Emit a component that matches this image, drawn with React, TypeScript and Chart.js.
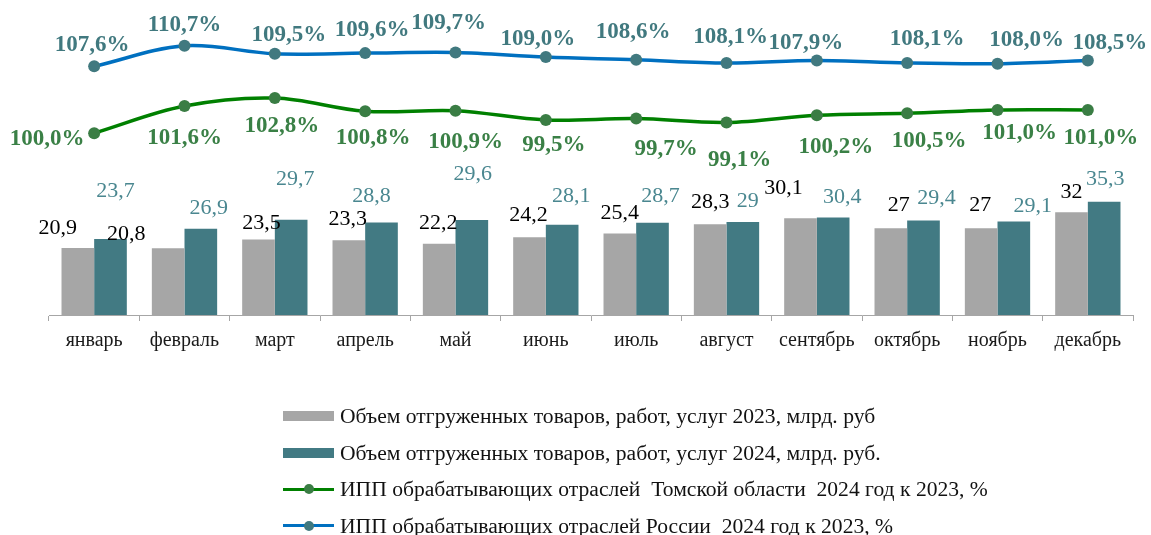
import React, { useEffect, useRef } from "react";
import { Chart, registerables } from "chart.js";

Chart.register(...registerables);

// ---------- data ----------
const months = ["январь", "февраль", "март", "апрель", "май", "июнь", "июль", "август", "сентябрь", "октябрь", "ноябрь", "декабрь"];
const shipped2023 = [20.9, 20.8, 23.5, 23.3, 22.2, 24.2, 25.4, 28.3, 30.1, 27, 27, 32];
const shipped2024 = [23.7, 26.9, 29.7, 28.8, 29.6, 28.1, 28.7, 29, 30.4, 29.4, 29.1, 35.3];
// plotted marker values
const tomskIndex = [97.5, 101.6, 102.8, 100.8, 100.9, 99.5, 99.7, 99.1, 100.2, 100.5, 101.0, 101.0];
const russiaIndex = [107.6, 110.7, 109.5, 109.6, 109.7, 109.0, 108.6, 108.1, 108.5, 108.1, 108.0, 108.5];
// printed label values
const tomskLabels = [100.0, 101.6, 102.8, 100.8, 100.9, 99.5, 99.7, 99.1, 100.2, 100.5, 101.0, 101.0];
const russiaLabels = [107.6, 110.7, 109.5, 109.6, 109.7, 109.0, 108.6, 108.1, 107.9, 108.1, 108.0, 108.5];

const legendNames = [
  "Объем отгруженных товаров, работ, услуг 2023, млрд. руб",
  "Объем отгруженных товаров, работ, услуг 2024, млрд. руб.",
  "ИПП обрабатывающих отраслей  Томской области  2024 год к 2023, %",
  "ИПП обрабатывающих отраслей России  2024 год к 2023, %",
];

// ---------- label placement (layout only) ----------
const nudge2023: [number, number][] = [[-20, -21], [-42, -16], [3, -18], [-1, -23], [-1, -22], [-1, -24], [0, -22], [0, -24], [-17, -32], [8, -25], [-1, -25], [0, -22]];
const nudge2024: [number, number][] = [[5, -49], [8, -22], [4, -42], [-10, -28], [1, -47], [9, -30], [8, -28], [5, -22], [9, -22], [13, -24], [19, -17], [1, -24]];
const nudgeTomsk: [number, number][] = [[-47, 4], [0, 30], [7, 26], [8, 25], [10, 30], [8, 23], [30, 29], [13, 36], [19, 30], [22, 26], [22, 21], [13, 26]];
const nudgeRussia: [number, number][] = [[-2, -23], [0, -23], [14, -21], [7, -25], [-7, -31], [-8, -20], [-3, -30], [4, -28], [-11, -19], [20, -26], [29, -25], [22, -19]];

const GREY = "#A6A6A6";
const TEAL = "#427A83";
const BLUE = "#0070C0";
const GREEN = "#008000";
const BLUE_MARK = "#41797F";
const GREEN_MARK = "#3A7D44";
const FONT = '"Liberation Serif", "Times New Roman", serif';

const fmtNum = (v: number) => String(v).replace(".", ",");
const fmtPct = (v: number) => v.toFixed(1).replace(".", ",") + "%";

type LabelSpec = { texts: string[]; nudge: [number, number][]; color: string; bold: boolean; size: number };

const labelSpecs: Record<number, LabelSpec> = {
  0: { texts: russiaLabels.map(fmtPct), nudge: nudgeRussia, color: BLUE_MARK, bold: true, size: 23 },
  1: { texts: tomskLabels.map(fmtPct), nudge: nudgeTomsk, color: "#3A8046", bold: true, size: 23 },
  2: { texts: shipped2023.map(fmtNum), nudge: nudge2023, color: "#000000", bold: false, size: 22 },
  3: { texts: shipped2024.map(fmtNum), nudge: nudge2024, color: "#4A8790", bold: false, size: 22 },
};

const valueLabelPlugin = {
  id: "valueLabels",
  afterDatasetsDraw(chart: any) {
    const ctx = chart.ctx as CanvasRenderingContext2D;
    ctx.save();
    ctx.textAlign = "center";
    ctx.textBaseline = "alphabetic";
    Object.keys(labelSpecs).forEach((k) => {
      const i = Number(k);
      const spec = labelSpecs[i];
      const meta = chart.getDatasetMeta(i);
      ctx.font = `${spec.bold ? "bold " : ""}${spec.size}px ${FONT}`;
      ctx.fillStyle = spec.color;
      meta.data.forEach((el: any, j: number) => {
        const [dx, dy] = spec.nudge[j];
        ctx.fillText(spec.texts[j], el.x + dx, el.y + dy + spec.size * 0.338);
      });
    });
    ctx.restore();
  },
};

function LegendRow({ kind, color, marker, text }: { kind: "box" | "line"; color: string; marker?: string; text: string }) {
  return (
    <div style={{ display: "flex", alignItems: "center", height: 36.5 }}>
      <div style={{ position: "relative", width: 51, height: 14, marginRight: 6 }}>
        {kind === "box" ? (
          <div style={{ position: "absolute", left: 0, top: 2, width: 51, height: 10, background: color }} />
        ) : (
          <>
            <div style={{ position: "absolute", left: 0, top: 5.5, width: 51, height: 3, background: color }} />
            <div style={{ position: "absolute", left: 20.5, top: 2, width: 10, height: 10, borderRadius: 5, background: marker }} />
          </>
        )}
      </div>
      <span style={{ whiteSpace: "pre", fontFamily: FONT, fontSize: 21.6, color: "#111", lineHeight: "22px" }}>{text}</span>
    </div>
  );
}

export default function App() {
  const canvasRef = useRef<HTMLCanvasElement | null>(null);

  useEffect(() => {
    const canvas = canvasRef.current;
    if (!canvas) return;
    const chart = new Chart(canvas, {
      type: "bar",
      data: {
        labels: months,
        datasets: [
          {
            type: "line",
            label: legendNames[3],
            data: russiaIndex,
            yAxisID: "y2",
            borderColor: BLUE,
            borderWidth: 3.5,
            pointBackgroundColor: BLUE_MARK,
            pointBorderColor: BLUE_MARK,
            pointBorderWidth: 0,
            pointRadius: 6,
            tension: 0.35,
            fill: false,
            order: 0,
          } as any,
          {
            type: "line",
            label: legendNames[2],
            data: tomskIndex,
            yAxisID: "y2",
            borderColor: GREEN,
            borderWidth: 3.5,
            pointBackgroundColor: GREEN_MARK,
            pointBorderColor: GREEN_MARK,
            pointBorderWidth: 0,
            pointRadius: 6,
            tension: 0.35,
            fill: false,
            order: 1,
          } as any,
          {
            type: "bar",
            label: legendNames[0],
            data: shipped2023,
            yAxisID: "y",
            backgroundColor: GREY,
            categoryPercentage: 0.723,
            barPercentage: 1,
            order: 2,
          },
          {
            type: "bar",
            label: legendNames[1],
            data: shipped2024,
            yAxisID: "y",
            backgroundColor: TEAL,
            categoryPercentage: 0.723,
            barPercentage: 1,
            order: 2,
          },
        ],
      },
      options: {
        responsive: false,
        animation: false,
        devicePixelRatio: 1,
        layout: { padding: { left: 49, right: 18, top: 10, bottom: 180 } },
        plugins: {
          legend: { display: false },
          tooltip: { enabled: false },
          title: { display: false },
        },
        scales: {
          x: {
            type: "category",
            offset: true,
            grid: { display: true, offset: true, drawOnChartArea: false, drawTicks: true, tickLength: 6, color: GREY, lineWidth: 1 },
            border: { display: true, color: GREY, width: 1 },
            ticks: { font: { family: FONT, size: 20 }, color: "#1a1a1a", padding: 8, maxRotation: 0, autoSkip: false },
            afterFit: (scale: any) => {
              scale.height = 40;
            },
          },
          y: { type: "linear", display: false, min: 0, max: 95 },
          y2: { type: "linear", display: false, min: 70, max: 116.12 },
        },
      },
      plugins: [valueLabelPlugin],
    });
    return () => chart.destroy();
  }, []);

  return (
    <div style={{ position: "absolute", left: 0, top: 0, width: 1151, height: 535, background: "#fff", overflow: "hidden" }}>
      <canvas ref={canvasRef} width={1151} height={535} style={{ display: "block", width: 1151, height: 535 }} />
      <div style={{ position: "absolute", left: 283, top: 398 }}>
        <LegendRow kind="box" color={GREY} text={legendNames[0]} />
        <LegendRow kind="box" color={TEAL} text={legendNames[1]} />
        <LegendRow kind="line" color={GREEN} marker={GREEN_MARK} text={legendNames[2]} />
        <LegendRow kind="line" color={BLUE} marker={BLUE_MARK} text={legendNames[3]} />
      </div>
    </div>
  );
}
